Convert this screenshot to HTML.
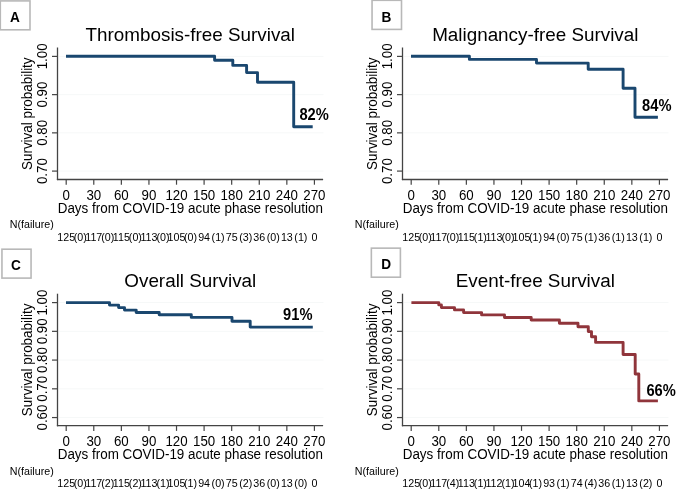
<!DOCTYPE html>
<html><head><meta charset="utf-8"><style>
html,body{margin:0;padding:0;background:#fff;}
body{width:685px;height:489px;overflow:hidden;}
svg{display:block;will-change:transform;}
text{font-family:"Liberation Sans",sans-serif;fill:#000;}
.tk{font-size:13.3px;}
.ttl{font-size:18.85px;}
.axt{font-size:13.42px;}
.rt{font-size:10.7px;}
.pct{font-size:28.8px;font-weight:bold;}
.lab{font-size:15.5px;font-weight:bold;}
</style></head><body>
<svg width="685" height="489" viewBox="0 0 685 489">
<rect width="685" height="489" fill="#fff"/>
<g transform="translate(0,0)">
<line x1="59" y1="56.40" x2="323.5" y2="56.40" stroke="#f6f8f8" stroke-width="1"/>
<line x1="59" y1="94.63" x2="323.5" y2="94.63" stroke="#f6f8f8" stroke-width="1"/>
<line x1="59" y1="132.86" x2="323.5" y2="132.86" stroke="#f6f8f8" stroke-width="1"/>
<line x1="59" y1="171.09" x2="323.5" y2="171.09" stroke="#f6f8f8" stroke-width="1"/>
<line x1="57.5" y1="47.5" x2="57.5" y2="180.1" stroke="#444444" stroke-width="1.3"/>
<line x1="56.9" y1="179.5" x2="323.1" y2="179.5" stroke="#444444" stroke-width="1.3"/>
<line x1="52" y1="56.40" x2="57.5" y2="56.40" stroke="#444444" stroke-width="1.2"/>
<text class="tk" transform="translate(46.9,56.40) rotate(-90) scale(1,1.09)" text-anchor="middle">1.00</text>
<line x1="52" y1="94.63" x2="57.5" y2="94.63" stroke="#444444" stroke-width="1.2"/>
<text class="tk" transform="translate(46.9,94.63) rotate(-90) scale(1,1.09)" text-anchor="middle">0.90</text>
<line x1="52" y1="132.86" x2="57.5" y2="132.86" stroke="#444444" stroke-width="1.2"/>
<text class="tk" transform="translate(46.9,132.86) rotate(-90) scale(1,1.09)" text-anchor="middle">0.80</text>
<line x1="52" y1="171.09" x2="57.5" y2="171.09" stroke="#444444" stroke-width="1.2"/>
<text class="tk" transform="translate(46.9,171.09) rotate(-90) scale(1,1.09)" text-anchor="middle">0.70</text>
<line x1="66.20" y1="179.5" x2="66.20" y2="184.7" stroke="#444444" stroke-width="1.2"/>
<text class="tk" transform="translate(66.20,199.5) scale(1,1.09)" text-anchor="middle">0</text>
<line x1="93.78" y1="179.5" x2="93.78" y2="184.7" stroke="#444444" stroke-width="1.2"/>
<text class="tk" transform="translate(93.78,199.5) scale(1,1.09)" text-anchor="middle">30</text>
<line x1="121.36" y1="179.5" x2="121.36" y2="184.7" stroke="#444444" stroke-width="1.2"/>
<text class="tk" transform="translate(121.36,199.5) scale(1,1.09)" text-anchor="middle">60</text>
<line x1="148.94" y1="179.5" x2="148.94" y2="184.7" stroke="#444444" stroke-width="1.2"/>
<text class="tk" transform="translate(148.94,199.5) scale(1,1.09)" text-anchor="middle">90</text>
<line x1="176.52" y1="179.5" x2="176.52" y2="184.7" stroke="#444444" stroke-width="1.2"/>
<text class="tk" transform="translate(176.52,199.5) scale(1,1.09)" text-anchor="middle">120</text>
<line x1="204.10" y1="179.5" x2="204.10" y2="184.7" stroke="#444444" stroke-width="1.2"/>
<text class="tk" transform="translate(204.10,199.5) scale(1,1.09)" text-anchor="middle">150</text>
<line x1="231.68" y1="179.5" x2="231.68" y2="184.7" stroke="#444444" stroke-width="1.2"/>
<text class="tk" transform="translate(231.68,199.5) scale(1,1.09)" text-anchor="middle">180</text>
<line x1="259.26" y1="179.5" x2="259.26" y2="184.7" stroke="#444444" stroke-width="1.2"/>
<text class="tk" transform="translate(259.26,199.5) scale(1,1.09)" text-anchor="middle">210</text>
<line x1="286.84" y1="179.5" x2="286.84" y2="184.7" stroke="#444444" stroke-width="1.2"/>
<text class="tk" transform="translate(286.84,199.5) scale(1,1.09)" text-anchor="middle">240</text>
<line x1="314.42" y1="179.5" x2="314.42" y2="184.7" stroke="#444444" stroke-width="1.2"/>
<text class="tk" transform="translate(314.42,199.5) scale(1,1.09)" text-anchor="middle">270</text>
<text class="ttl" x="190.3" y="41" text-anchor="middle">Thrombosis-free Survival</text>
<text class="axt" transform="translate(190.3,212.6) scale(1,1.09)" text-anchor="middle">Days from COVID-19 acute phase resolution</text>
<text class="axt" transform="translate(31.9,113.7) rotate(-90) scale(1,1.09)" text-anchor="middle">Survival probability</text>
<text class="rt" x="9.8" y="228.4">N(failure)</text>
<text class="rt" x="66.20" y="240.8" text-anchor="middle">125</text>
<text class="rt" x="73.70" y="240.8">(0)</text>
<text class="rt" x="93.78" y="240.8" text-anchor="middle">117</text>
<text class="rt" x="101.28" y="240.8">(0)</text>
<text class="rt" x="121.36" y="240.8" text-anchor="middle">115</text>
<text class="rt" x="128.86" y="240.8">(0)</text>
<text class="rt" x="148.94" y="240.8" text-anchor="middle">113</text>
<text class="rt" x="156.44" y="240.8">(0)</text>
<text class="rt" x="176.52" y="240.8" text-anchor="middle">105</text>
<text class="rt" x="184.02" y="240.8">(0)</text>
<text class="rt" x="204.10" y="240.8" text-anchor="middle">94</text>
<text class="rt" x="211.60" y="240.8">(1)</text>
<text class="rt" x="231.68" y="240.8" text-anchor="middle">75</text>
<text class="rt" x="239.18" y="240.8">(3)</text>
<text class="rt" x="259.26" y="240.8" text-anchor="middle">36</text>
<text class="rt" x="266.76" y="240.8">(0)</text>
<text class="rt" x="286.84" y="240.8" text-anchor="middle">13</text>
<text class="rt" x="294.34" y="240.8">(1)</text>
<text class="rt" x="314.42" y="240.8" text-anchor="middle">0</text>
<path d="M66,56.3 H214.6 V60.3 H232.8 V65.4 H246.6 V72.6 H257.5 V82.2 H293.7 V126.8 H312.7" fill="none" stroke="#1a476f" stroke-width="2.9" stroke-linejoin="round" stroke-linecap="butt"/>
<text class="pct" transform="translate(299.40,120.2) scale(0.51,0.545)">82%</text>
</g>
<rect x="0.3" y="0.9" width="29.7" height="28.9" fill="#fff" stroke="#b8b8b8" stroke-width="1.6"/>
<text class="lab" transform="translate(15.0,21.8) scale(0.88,1)" text-anchor="middle">A</text>
<g transform="translate(345,0)">
<line x1="59" y1="56.40" x2="323.5" y2="56.40" stroke="#f6f8f8" stroke-width="1"/>
<line x1="59" y1="94.63" x2="323.5" y2="94.63" stroke="#f6f8f8" stroke-width="1"/>
<line x1="59" y1="132.86" x2="323.5" y2="132.86" stroke="#f6f8f8" stroke-width="1"/>
<line x1="59" y1="171.09" x2="323.5" y2="171.09" stroke="#f6f8f8" stroke-width="1"/>
<line x1="57.5" y1="47.5" x2="57.5" y2="180.1" stroke="#444444" stroke-width="1.3"/>
<line x1="56.9" y1="179.5" x2="323.1" y2="179.5" stroke="#444444" stroke-width="1.3"/>
<line x1="52" y1="56.40" x2="57.5" y2="56.40" stroke="#444444" stroke-width="1.2"/>
<text class="tk" transform="translate(46.9,56.40) rotate(-90) scale(1,1.09)" text-anchor="middle">1.00</text>
<line x1="52" y1="94.63" x2="57.5" y2="94.63" stroke="#444444" stroke-width="1.2"/>
<text class="tk" transform="translate(46.9,94.63) rotate(-90) scale(1,1.09)" text-anchor="middle">0.90</text>
<line x1="52" y1="132.86" x2="57.5" y2="132.86" stroke="#444444" stroke-width="1.2"/>
<text class="tk" transform="translate(46.9,132.86) rotate(-90) scale(1,1.09)" text-anchor="middle">0.80</text>
<line x1="52" y1="171.09" x2="57.5" y2="171.09" stroke="#444444" stroke-width="1.2"/>
<text class="tk" transform="translate(46.9,171.09) rotate(-90) scale(1,1.09)" text-anchor="middle">0.70</text>
<line x1="66.20" y1="179.5" x2="66.20" y2="184.7" stroke="#444444" stroke-width="1.2"/>
<text class="tk" transform="translate(66.20,199.5) scale(1,1.09)" text-anchor="middle">0</text>
<line x1="93.78" y1="179.5" x2="93.78" y2="184.7" stroke="#444444" stroke-width="1.2"/>
<text class="tk" transform="translate(93.78,199.5) scale(1,1.09)" text-anchor="middle">30</text>
<line x1="121.36" y1="179.5" x2="121.36" y2="184.7" stroke="#444444" stroke-width="1.2"/>
<text class="tk" transform="translate(121.36,199.5) scale(1,1.09)" text-anchor="middle">60</text>
<line x1="148.94" y1="179.5" x2="148.94" y2="184.7" stroke="#444444" stroke-width="1.2"/>
<text class="tk" transform="translate(148.94,199.5) scale(1,1.09)" text-anchor="middle">90</text>
<line x1="176.52" y1="179.5" x2="176.52" y2="184.7" stroke="#444444" stroke-width="1.2"/>
<text class="tk" transform="translate(176.52,199.5) scale(1,1.09)" text-anchor="middle">120</text>
<line x1="204.10" y1="179.5" x2="204.10" y2="184.7" stroke="#444444" stroke-width="1.2"/>
<text class="tk" transform="translate(204.10,199.5) scale(1,1.09)" text-anchor="middle">150</text>
<line x1="231.68" y1="179.5" x2="231.68" y2="184.7" stroke="#444444" stroke-width="1.2"/>
<text class="tk" transform="translate(231.68,199.5) scale(1,1.09)" text-anchor="middle">180</text>
<line x1="259.26" y1="179.5" x2="259.26" y2="184.7" stroke="#444444" stroke-width="1.2"/>
<text class="tk" transform="translate(259.26,199.5) scale(1,1.09)" text-anchor="middle">210</text>
<line x1="286.84" y1="179.5" x2="286.84" y2="184.7" stroke="#444444" stroke-width="1.2"/>
<text class="tk" transform="translate(286.84,199.5) scale(1,1.09)" text-anchor="middle">240</text>
<line x1="314.42" y1="179.5" x2="314.42" y2="184.7" stroke="#444444" stroke-width="1.2"/>
<text class="tk" transform="translate(314.42,199.5) scale(1,1.09)" text-anchor="middle">270</text>
<text class="ttl" x="190.3" y="41" text-anchor="middle">Malignancy-free Survival</text>
<text class="axt" transform="translate(190.3,212.6) scale(1,1.09)" text-anchor="middle">Days from COVID-19 acute phase resolution</text>
<text class="axt" transform="translate(31.9,113.7) rotate(-90) scale(1,1.09)" text-anchor="middle">Survival probability</text>
<text class="rt" x="9.8" y="228.4">N(failure)</text>
<text class="rt" x="66.20" y="240.8" text-anchor="middle">125</text>
<text class="rt" x="73.70" y="240.8">(0)</text>
<text class="rt" x="93.78" y="240.8" text-anchor="middle">117</text>
<text class="rt" x="101.28" y="240.8">(0)</text>
<text class="rt" x="121.36" y="240.8" text-anchor="middle">115</text>
<text class="rt" x="128.86" y="240.8">(1)</text>
<text class="rt" x="148.94" y="240.8" text-anchor="middle">113</text>
<text class="rt" x="156.44" y="240.8">(0)</text>
<text class="rt" x="176.52" y="240.8" text-anchor="middle">105</text>
<text class="rt" x="184.02" y="240.8">(1)</text>
<text class="rt" x="204.10" y="240.8" text-anchor="middle">94</text>
<text class="rt" x="211.60" y="240.8">(0)</text>
<text class="rt" x="231.68" y="240.8" text-anchor="middle">75</text>
<text class="rt" x="239.18" y="240.8">(1)</text>
<text class="rt" x="259.26" y="240.8" text-anchor="middle">36</text>
<text class="rt" x="266.76" y="240.8">(1)</text>
<text class="rt" x="286.84" y="240.8" text-anchor="middle">13</text>
<text class="rt" x="294.34" y="240.8">(1)</text>
<text class="rt" x="314.42" y="240.8" text-anchor="middle">0</text>
<path d="M66,56.2 H124.39999999999998 V59.4 H191.5 V63.1 H243.20000000000005 V69.3 H278.1 V88.2 H290.0 V117.2 H312.9" fill="none" stroke="#1a476f" stroke-width="2.9" stroke-linejoin="round" stroke-linecap="butt"/>
<text class="pct" transform="translate(297.10,110.6) scale(0.51,0.545)">84%</text>
</g>
<rect x="372.05" y="0.3" width="29.45" height="29.1" fill="#fff" stroke="#b8b8b8" stroke-width="1.6"/>
<text class="lab" transform="translate(386.5,22) scale(0.88,1)" text-anchor="middle">B</text>
<g transform="translate(0,246.2)">
<line x1="59" y1="56.40" x2="323.5" y2="56.40" stroke="#f6f8f8" stroke-width="1"/>
<line x1="59" y1="85.14" x2="323.5" y2="85.14" stroke="#f6f8f8" stroke-width="1"/>
<line x1="59" y1="113.88" x2="323.5" y2="113.88" stroke="#f6f8f8" stroke-width="1"/>
<line x1="59" y1="142.62" x2="323.5" y2="142.62" stroke="#f6f8f8" stroke-width="1"/>
<line x1="59" y1="171.36" x2="323.5" y2="171.36" stroke="#f6f8f8" stroke-width="1"/>
<line x1="57.5" y1="47.5" x2="57.5" y2="180.1" stroke="#444444" stroke-width="1.3"/>
<line x1="56.9" y1="179.5" x2="323.1" y2="179.5" stroke="#444444" stroke-width="1.3"/>
<line x1="52" y1="56.40" x2="57.5" y2="56.40" stroke="#444444" stroke-width="1.2"/>
<text class="tk" transform="translate(46.9,56.40) rotate(-90) scale(1,1.09)" text-anchor="middle">1.00</text>
<line x1="52" y1="85.14" x2="57.5" y2="85.14" stroke="#444444" stroke-width="1.2"/>
<text class="tk" transform="translate(46.9,85.14) rotate(-90) scale(1,1.09)" text-anchor="middle">0.90</text>
<line x1="52" y1="113.88" x2="57.5" y2="113.88" stroke="#444444" stroke-width="1.2"/>
<text class="tk" transform="translate(46.9,113.88) rotate(-90) scale(1,1.09)" text-anchor="middle">0.80</text>
<line x1="52" y1="142.62" x2="57.5" y2="142.62" stroke="#444444" stroke-width="1.2"/>
<text class="tk" transform="translate(46.9,142.62) rotate(-90) scale(1,1.09)" text-anchor="middle">0.70</text>
<line x1="52" y1="171.36" x2="57.5" y2="171.36" stroke="#444444" stroke-width="1.2"/>
<text class="tk" transform="translate(46.9,171.36) rotate(-90) scale(1,1.09)" text-anchor="middle">0.60</text>
<line x1="66.20" y1="179.5" x2="66.20" y2="184.7" stroke="#444444" stroke-width="1.2"/>
<text class="tk" transform="translate(66.20,199.5) scale(1,1.09)" text-anchor="middle">0</text>
<line x1="93.78" y1="179.5" x2="93.78" y2="184.7" stroke="#444444" stroke-width="1.2"/>
<text class="tk" transform="translate(93.78,199.5) scale(1,1.09)" text-anchor="middle">30</text>
<line x1="121.36" y1="179.5" x2="121.36" y2="184.7" stroke="#444444" stroke-width="1.2"/>
<text class="tk" transform="translate(121.36,199.5) scale(1,1.09)" text-anchor="middle">60</text>
<line x1="148.94" y1="179.5" x2="148.94" y2="184.7" stroke="#444444" stroke-width="1.2"/>
<text class="tk" transform="translate(148.94,199.5) scale(1,1.09)" text-anchor="middle">90</text>
<line x1="176.52" y1="179.5" x2="176.52" y2="184.7" stroke="#444444" stroke-width="1.2"/>
<text class="tk" transform="translate(176.52,199.5) scale(1,1.09)" text-anchor="middle">120</text>
<line x1="204.10" y1="179.5" x2="204.10" y2="184.7" stroke="#444444" stroke-width="1.2"/>
<text class="tk" transform="translate(204.10,199.5) scale(1,1.09)" text-anchor="middle">150</text>
<line x1="231.68" y1="179.5" x2="231.68" y2="184.7" stroke="#444444" stroke-width="1.2"/>
<text class="tk" transform="translate(231.68,199.5) scale(1,1.09)" text-anchor="middle">180</text>
<line x1="259.26" y1="179.5" x2="259.26" y2="184.7" stroke="#444444" stroke-width="1.2"/>
<text class="tk" transform="translate(259.26,199.5) scale(1,1.09)" text-anchor="middle">210</text>
<line x1="286.84" y1="179.5" x2="286.84" y2="184.7" stroke="#444444" stroke-width="1.2"/>
<text class="tk" transform="translate(286.84,199.5) scale(1,1.09)" text-anchor="middle">240</text>
<line x1="314.42" y1="179.5" x2="314.42" y2="184.7" stroke="#444444" stroke-width="1.2"/>
<text class="tk" transform="translate(314.42,199.5) scale(1,1.09)" text-anchor="middle">270</text>
<text class="ttl" x="190.3" y="41" text-anchor="middle">Overall Survival</text>
<text class="axt" transform="translate(190.3,212.6) scale(1,1.09)" text-anchor="middle">Days from COVID-19 acute phase resolution</text>
<text class="axt" transform="translate(31.9,113.7) rotate(-90) scale(1,1.09)" text-anchor="middle">Survival probability</text>
<text class="rt" x="9.8" y="228.4">N(failure)</text>
<text class="rt" x="66.20" y="240.8" text-anchor="middle">125</text>
<text class="rt" x="73.70" y="240.8">(0)</text>
<text class="rt" x="93.78" y="240.8" text-anchor="middle">117</text>
<text class="rt" x="101.28" y="240.8">(2)</text>
<text class="rt" x="121.36" y="240.8" text-anchor="middle">115</text>
<text class="rt" x="128.86" y="240.8">(2)</text>
<text class="rt" x="148.94" y="240.8" text-anchor="middle">113</text>
<text class="rt" x="156.44" y="240.8">(1)</text>
<text class="rt" x="176.52" y="240.8" text-anchor="middle">105</text>
<text class="rt" x="184.02" y="240.8">(1)</text>
<text class="rt" x="204.10" y="240.8" text-anchor="middle">94</text>
<text class="rt" x="211.60" y="240.8">(0)</text>
<text class="rt" x="231.68" y="240.8" text-anchor="middle">75</text>
<text class="rt" x="239.18" y="240.8">(2)</text>
<text class="rt" x="259.26" y="240.8" text-anchor="middle">36</text>
<text class="rt" x="266.76" y="240.8">(0)</text>
<text class="rt" x="286.84" y="240.8" text-anchor="middle">13</text>
<text class="rt" x="294.34" y="240.8">(0)</text>
<text class="rt" x="314.42" y="240.8" text-anchor="middle">0</text>
<path d="M66,56.39999999999998 H109.5 V58.89999999999998 H118.6 V61.39999999999998 H124.5 V63.89999999999998 H136.2 V66.30000000000001 H159.2 V68.60000000000002 H191.3 V71.19999999999999 H232.0 V75.0 H250.2 V80.89999999999998 H312.8" fill="none" stroke="#1a476f" stroke-width="2.9" stroke-linejoin="round" stroke-linecap="butt"/>
<text class="pct" transform="translate(283.10,73.89999999999998) scale(0.51,0.545)">91%</text>
</g>
<rect x="1.95" y="249.2" width="29.1" height="28.9" fill="#fff" stroke="#b8b8b8" stroke-width="1.6"/>
<text class="lab" transform="translate(16,270.3) scale(0.88,1)" text-anchor="middle">C</text>
<g transform="translate(345,246.2)">
<line x1="59" y1="56.40" x2="323.5" y2="56.40" stroke="#f6f8f8" stroke-width="1"/>
<line x1="59" y1="85.14" x2="323.5" y2="85.14" stroke="#f6f8f8" stroke-width="1"/>
<line x1="59" y1="113.88" x2="323.5" y2="113.88" stroke="#f6f8f8" stroke-width="1"/>
<line x1="59" y1="142.62" x2="323.5" y2="142.62" stroke="#f6f8f8" stroke-width="1"/>
<line x1="59" y1="171.36" x2="323.5" y2="171.36" stroke="#f6f8f8" stroke-width="1"/>
<line x1="57.5" y1="47.5" x2="57.5" y2="180.1" stroke="#444444" stroke-width="1.3"/>
<line x1="56.9" y1="179.5" x2="323.1" y2="179.5" stroke="#444444" stroke-width="1.3"/>
<line x1="52" y1="56.40" x2="57.5" y2="56.40" stroke="#444444" stroke-width="1.2"/>
<text class="tk" transform="translate(46.9,56.40) rotate(-90) scale(1,1.09)" text-anchor="middle">1.00</text>
<line x1="52" y1="85.14" x2="57.5" y2="85.14" stroke="#444444" stroke-width="1.2"/>
<text class="tk" transform="translate(46.9,85.14) rotate(-90) scale(1,1.09)" text-anchor="middle">0.90</text>
<line x1="52" y1="113.88" x2="57.5" y2="113.88" stroke="#444444" stroke-width="1.2"/>
<text class="tk" transform="translate(46.9,113.88) rotate(-90) scale(1,1.09)" text-anchor="middle">0.80</text>
<line x1="52" y1="142.62" x2="57.5" y2="142.62" stroke="#444444" stroke-width="1.2"/>
<text class="tk" transform="translate(46.9,142.62) rotate(-90) scale(1,1.09)" text-anchor="middle">0.70</text>
<line x1="52" y1="171.36" x2="57.5" y2="171.36" stroke="#444444" stroke-width="1.2"/>
<text class="tk" transform="translate(46.9,171.36) rotate(-90) scale(1,1.09)" text-anchor="middle">0.60</text>
<line x1="66.20" y1="179.5" x2="66.20" y2="184.7" stroke="#444444" stroke-width="1.2"/>
<text class="tk" transform="translate(66.20,199.5) scale(1,1.09)" text-anchor="middle">0</text>
<line x1="93.78" y1="179.5" x2="93.78" y2="184.7" stroke="#444444" stroke-width="1.2"/>
<text class="tk" transform="translate(93.78,199.5) scale(1,1.09)" text-anchor="middle">30</text>
<line x1="121.36" y1="179.5" x2="121.36" y2="184.7" stroke="#444444" stroke-width="1.2"/>
<text class="tk" transform="translate(121.36,199.5) scale(1,1.09)" text-anchor="middle">60</text>
<line x1="148.94" y1="179.5" x2="148.94" y2="184.7" stroke="#444444" stroke-width="1.2"/>
<text class="tk" transform="translate(148.94,199.5) scale(1,1.09)" text-anchor="middle">90</text>
<line x1="176.52" y1="179.5" x2="176.52" y2="184.7" stroke="#444444" stroke-width="1.2"/>
<text class="tk" transform="translate(176.52,199.5) scale(1,1.09)" text-anchor="middle">120</text>
<line x1="204.10" y1="179.5" x2="204.10" y2="184.7" stroke="#444444" stroke-width="1.2"/>
<text class="tk" transform="translate(204.10,199.5) scale(1,1.09)" text-anchor="middle">150</text>
<line x1="231.68" y1="179.5" x2="231.68" y2="184.7" stroke="#444444" stroke-width="1.2"/>
<text class="tk" transform="translate(231.68,199.5) scale(1,1.09)" text-anchor="middle">180</text>
<line x1="259.26" y1="179.5" x2="259.26" y2="184.7" stroke="#444444" stroke-width="1.2"/>
<text class="tk" transform="translate(259.26,199.5) scale(1,1.09)" text-anchor="middle">210</text>
<line x1="286.84" y1="179.5" x2="286.84" y2="184.7" stroke="#444444" stroke-width="1.2"/>
<text class="tk" transform="translate(286.84,199.5) scale(1,1.09)" text-anchor="middle">240</text>
<line x1="314.42" y1="179.5" x2="314.42" y2="184.7" stroke="#444444" stroke-width="1.2"/>
<text class="tk" transform="translate(314.42,199.5) scale(1,1.09)" text-anchor="middle">270</text>
<text class="ttl" x="190.3" y="41" text-anchor="middle">Event-free Survival</text>
<text class="axt" transform="translate(190.3,212.6) scale(1,1.09)" text-anchor="middle">Days from COVID-19 acute phase resolution</text>
<text class="axt" transform="translate(31.9,113.7) rotate(-90) scale(1,1.09)" text-anchor="middle">Survival probability</text>
<text class="rt" x="9.8" y="228.4">N(failure)</text>
<text class="rt" x="66.20" y="240.8" text-anchor="middle">125</text>
<text class="rt" x="73.70" y="240.8">(0)</text>
<text class="rt" x="93.78" y="240.8" text-anchor="middle">117</text>
<text class="rt" x="101.28" y="240.8">(4)</text>
<text class="rt" x="121.36" y="240.8" text-anchor="middle">113</text>
<text class="rt" x="128.86" y="240.8">(1)</text>
<text class="rt" x="148.94" y="240.8" text-anchor="middle">112</text>
<text class="rt" x="156.44" y="240.8">(1)</text>
<text class="rt" x="176.52" y="240.8" text-anchor="middle">104</text>
<text class="rt" x="184.02" y="240.8">(1)</text>
<text class="rt" x="204.10" y="240.8" text-anchor="middle">93</text>
<text class="rt" x="211.60" y="240.8">(1)</text>
<text class="rt" x="231.68" y="240.8" text-anchor="middle">74</text>
<text class="rt" x="239.18" y="240.8">(4)</text>
<text class="rt" x="259.26" y="240.8" text-anchor="middle">36</text>
<text class="rt" x="266.76" y="240.8">(1)</text>
<text class="rt" x="286.84" y="240.8" text-anchor="middle">13</text>
<text class="rt" x="294.34" y="240.8">(2)</text>
<text class="rt" x="314.42" y="240.8" text-anchor="middle">0</text>
<path d="M66.39999999999998,56.400000000000006 H93.80000000000001 V58.70000000000002 H96.39999999999998 V61.400000000000006 H109.5 V63.70000000000002 H118.60000000000002 V66.4 H136.60000000000002 V68.70000000000002 H159.5 V71.29999999999998 H186.20000000000005 V73.79999999999998 H214.39999999999998 V77.1 H233.0 V80.49999999999997 H243.29999999999995 V85.4 H246.5 V90.6 H250.60000000000002 V96.20000000000002 H278.1 V108.29999999999998 H290.20000000000005 V127.79999999999998 H293.79999999999995 V154.70000000000002 H312.9" fill="none" stroke="#90353b" stroke-width="2.9" stroke-linejoin="round" stroke-linecap="butt"/>
<text class="pct" transform="translate(301.40,149.3) scale(0.51,0.545)">66%</text>
</g>
<rect x="371.35" y="248.15" width="29.05" height="29.05" fill="#fff" stroke="#b8b8b8" stroke-width="1.6"/>
<text class="lab" transform="translate(386.2,269.4) scale(0.88,1)" text-anchor="middle">D</text>
</svg>
</body></html>
